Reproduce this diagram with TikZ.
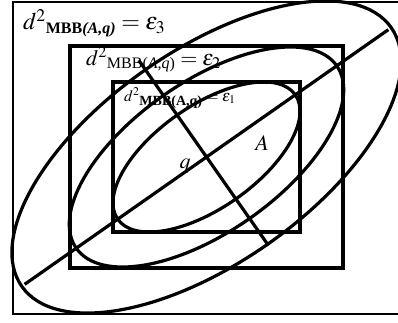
\documentclass[tikz,border=0pt]{standalone}
\usepackage{mathptmx}
\usepackage{amsmath}
\usepackage{fontspec}
\setmainfont{Liberation Serif}
\usetikzlibrary{calc}
\tikzset{heavy/.style={line width=3.2pt}, light/.style={line width=1.8pt}}
\begin{document}
\begin{tikzpicture}[x=1pt,y=1pt]
        \useasboundingbox (0,0) rectangle (398,322);
        \clip (0,0) rectangle (398,322);
        \coordinate (C) at (206.5,165);
        \draw[light] (13,8) rectangle (401,320);
        \draw[heavy] (70,54) rectangle (343,276);
        \draw[heavy,line width=3.6pt] (113,90) rectangle (300,240);
        \draw[heavy] (C) ellipse [x radius=108.4pt, y radius=51.2pt, rotate=35];
        \draw[heavy] (C) ellipse [x radius=159pt, y radius=75.1pt, rotate=35];
        \draw[heavy] (C) ellipse [x radius=225.5pt, y radius=106.5pt, rotate=35];
        \coordinate (M1) at ($(C)+(215:222pt)$);
        \coordinate (M2) at ($(C)+(35:222pt)$);
        \coordinate (N1) at ($(C)+(125:118pt)$);
        \coordinate (N2) at ($(C)+(-55:108pt)$);
        \draw[heavy] (M1)--(M2);
        \draw[heavy] (N1)--(N2);
        \draw (23,292) node[anchor=base west,inner sep=0pt,font=\fontsize{24}{26}\selectfont] (eps3) {$d^2{}_{\text{\fontsize{16}{16}\selectfont\bfseries MBB\itshape(A,q)}}=\epsilon_3$};
        \draw (86,257) node[anchor=base west,inner sep=0pt,font=\fontsize{22}{24}\selectfont] (eps2) {$d^2{}_{\text{\fontsize{16}{16}\selectfont MBB(\itshape A,q\upshape)}}=\epsilon_2$};
        \draw (124,221) node[anchor=base west,inner sep=0pt,font=\fontsize{16}{18}\selectfont] (eps1) {$d^2{}_{\text{\fontsize{14}{14}\selectfont\bfseries MBB(A,q)}}=\epsilon_1$};
        \draw (185,156) node[font=\fontsize{22}{24}\selectfont] (q) {$q$};
        \draw (262,179) node[font=\fontsize{22}{24}\selectfont] (A) {$A$};
\end{tikzpicture}
\end{document}
